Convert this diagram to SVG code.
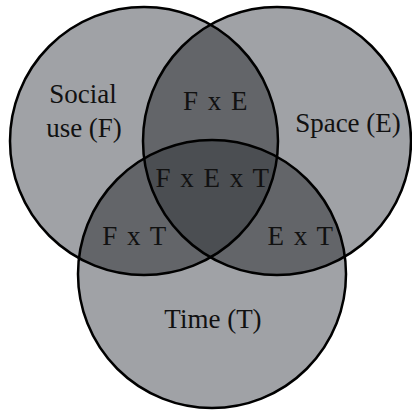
<svg xmlns="http://www.w3.org/2000/svg" width="412" height="414" viewBox="0 0 412 414">
<style>
.one{fill:#a0a2a6}
.two{fill:#636569}
.three{fill:#4b4e52}
.edge{fill:none;stroke:#000;stroke-width:2.5}
.lbl{font-family:'Liberation Serif','DejaVu Serif',serif;font-size:27px;fill:#111;text-anchor:middle}
.sp{letter-spacing:1.5px}
</style>
<defs>
<circle id="cF" cx="144" cy="141" r="134"/>
<circle id="cE" cx="277" cy="141" r="134"/>
<circle id="cT" cx="212" cy="274" r="134"/>
<clipPath id="clipF"><use href="#cF"/></clipPath>
<clipPath id="clipE"><use href="#cE"/></clipPath>
<clipPath id="clipT"><use href="#cT"/></clipPath>
</defs>
<g id="fills">
<use href="#cF" class="one"/>
<use href="#cE" class="one"/>
<use href="#cT" class="one"/>
<use href="#cE" class="two" clip-path="url(#clipF)"/>
<use href="#cT" class="two" clip-path="url(#clipF)"/>
<use href="#cT" class="two" clip-path="url(#clipE)"/>
<g clip-path="url(#clipE)"><use href="#cT" class="three" clip-path="url(#clipF)"/></g>
</g>
<g id="node-F"><use href="#cF" class="edge"/><text class="lbl" font-family="Liberation Serif, serif" x="83" y="103">Social</text><text class="lbl" font-family="Liberation Serif, serif" x="84" y="137">use (F)</text></g>
<g id="node-E"><use href="#cE" class="edge"/><text class="lbl" font-family="Liberation Serif, serif" x="348" y="132">Space (E)</text></g>
<g id="node-T"><use href="#cT" class="edge"/><text class="lbl" font-family="Liberation Serif, serif" x="213" y="328">Time (T)</text></g>
<g id="node-FE"><text class="lbl sp" font-family="Liberation Serif, serif" x="216" y="110">F x E</text></g>
<g id="node-FET"><text class="lbl sp" font-family="Liberation Serif, serif" x="213" y="187">F x E x T</text></g>
<g id="node-FT"><text class="lbl sp" font-family="Liberation Serif, serif" x="135" y="245">F x T</text></g>
<g id="node-ET"><text class="lbl sp" font-family="Liberation Serif, serif" x="301" y="245">E x T</text></g>
</svg>
